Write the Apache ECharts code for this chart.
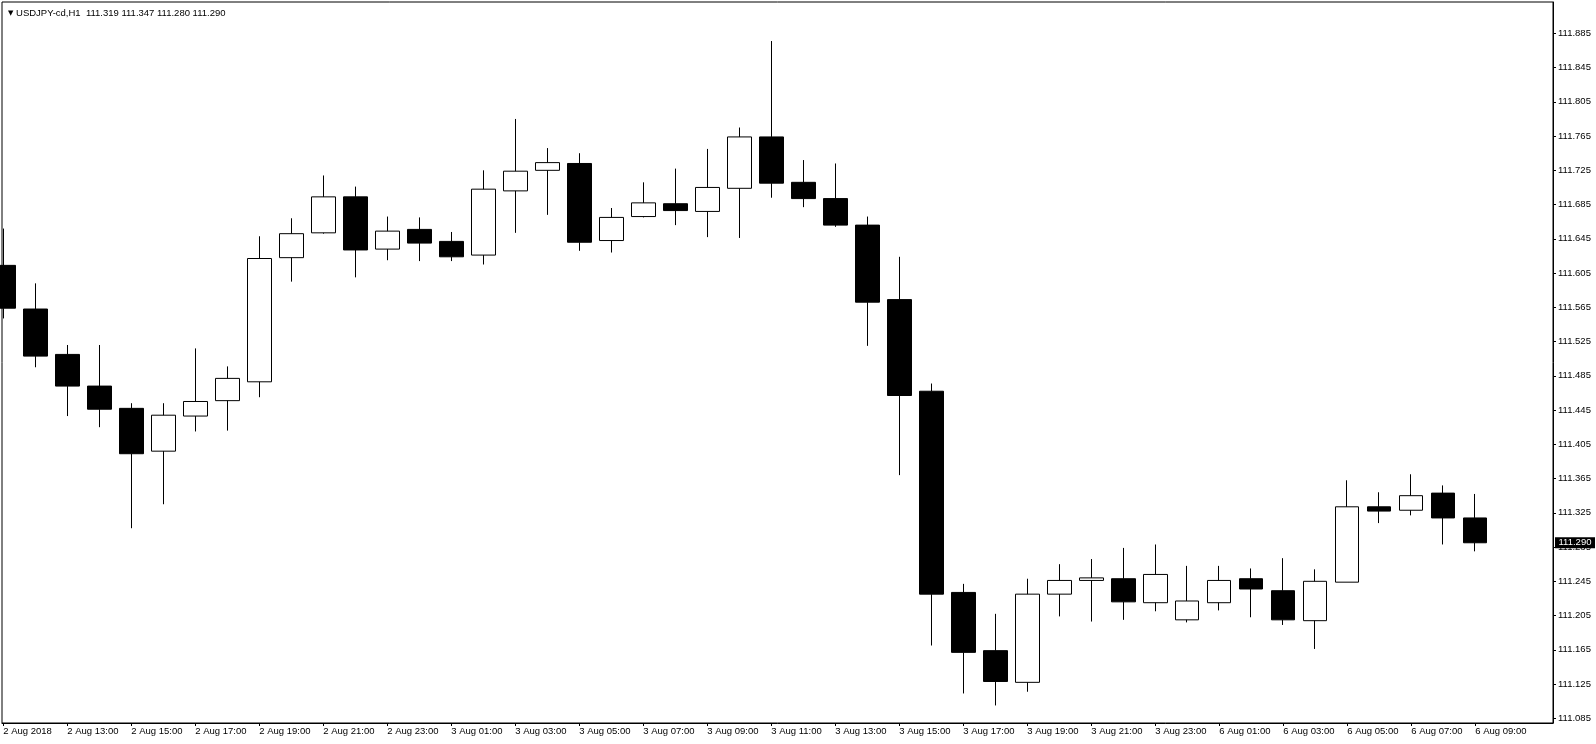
<!DOCTYPE html>
<html>
<head>
<meta charset="utf-8">
<script src="https://cdn.jsdelivr.net/npm/echarts@6/dist/echarts.min.js"></script>
<style>
  html, body { margin: 0; padding: 0; background: #fff; }
  #chart { width: 1596px; height: 744px; }
</style>
</head>
<body>
<div id="chart"></div>
<script>
// ---- Data (USDJPY-cd, H1) ----
const symbolName = "USDJPY-cd,H1";
const times = [
  "2 Aug 11:00","2 Aug 12:00","2 Aug 13:00","2 Aug 14:00","2 Aug 15:00","2 Aug 16:00","2 Aug 17:00","2 Aug 18:00",
  "2 Aug 19:00","2 Aug 20:00","2 Aug 21:00","2 Aug 22:00","2 Aug 23:00","3 Aug 00:00","3 Aug 01:00","3 Aug 02:00",
  "3 Aug 03:00","3 Aug 04:00","3 Aug 05:00","3 Aug 06:00","3 Aug 07:00","3 Aug 08:00","3 Aug 09:00","3 Aug 10:00",
  "3 Aug 11:00","3 Aug 12:00","3 Aug 13:00","3 Aug 14:00","3 Aug 15:00","3 Aug 16:00","3 Aug 17:00","3 Aug 18:00",
  "3 Aug 19:00","3 Aug 20:00","3 Aug 21:00","3 Aug 22:00","3 Aug 23:00","6 Aug 00:00","6 Aug 01:00","6 Aug 02:00",
  "6 Aug 03:00","6 Aug 04:00","6 Aug 05:00","6 Aug 06:00","6 Aug 07:00","6 Aug 08:00","6 Aug 09:00"
];
const openP = [
  111.614,111.563,111.510,111.473,111.447,111.397,111.438,111.456,111.478,111.623,
  111.652,111.694,111.633,111.656,111.642,111.626,111.701,111.725,111.733,111.643,
  111.671,111.686,111.677,111.704,111.764,111.711,111.692,111.661,111.574,111.467,
  111.232,111.164,111.127,111.230,111.246,111.248,111.220,111.200,111.220,111.248,
  111.234,111.199,111.244,111.332,111.328,111.348,111.319
];
const highP = [
  111.657,111.593,111.521,111.521,111.453,111.453,111.517,111.496,111.648,111.669,
  111.719,111.706,111.671,111.670,111.653,111.725,111.785,111.751,111.745,111.681,
  111.711,111.727,111.750,111.775,111.876,111.737,111.733,111.671,111.624,111.476,
  111.242,111.207,111.248,111.265,111.271,111.284,111.288,111.263,111.263,111.260,
  111.272,111.259,111.363,111.349,111.370,111.357,111.347
];
const lowP = [
  111.552,111.495,111.438,111.425,111.307,111.335,111.420,111.421,111.460,111.595,
  111.651,111.600,111.620,111.619,111.619,111.615,111.652,111.673,111.631,111.629,
  111.670,111.661,111.647,111.646,111.693,111.682,111.659,111.520,111.369,111.170,
  111.114,111.100,111.116,111.204,111.198,111.200,111.210,111.197,111.211,111.203,
  111.194,111.166,111.244,111.313,111.322,111.288,111.280
];
const closeP = [
  111.564,111.508,111.473,111.446,111.394,111.439,111.455,111.482,111.622,111.651,
  111.694,111.632,111.654,111.640,111.624,111.703,111.724,111.734,111.641,111.670,
  111.687,111.678,111.705,111.764,111.710,111.692,111.661,111.571,111.462,111.230,
  111.162,111.128,111.230,111.246,111.249,111.221,111.253,111.222,111.246,111.236,
  111.200,111.245,111.332,111.327,111.345,111.319,111.290
];
const xTickIndex = [0,2,4,6,8,10,12,14,16,18,20,22,24,26,28,30,32,34,36,38,40,42,44,46];
const xTickLabels = [
  "2 Aug 2018","2 Aug 13:00","2 Aug 15:00","2 Aug 17:00","2 Aug 19:00","2 Aug 21:00","2 Aug 23:00",
  "3 Aug 01:00","3 Aug 03:00","3 Aug 05:00","3 Aug 07:00","3 Aug 09:00","3 Aug 11:00","3 Aug 13:00",
  "3 Aug 15:00","3 Aug 17:00","3 Aug 19:00","3 Aug 21:00","3 Aug 23:00","6 Aug 01:00","6 Aug 03:00",
  "6 Aug 05:00","6 Aug 07:00","6 Aug 09:00"
];
const yTicks = [111.085,111.125,111.165,111.205,111.245,111.285,111.325,111.365,111.405,111.445,
  111.485,111.525,111.565,111.605,111.645,111.685,111.725,111.765,111.805,111.845,111.885];

// ---- Build ----
const FONT = "'Liberation Sans', 'DejaVu Sans', sans-serif";
const FS = 9.5;
const candles = openP.map((o, i) => [i, o, closeP[i], lowP[i], highP[i]]);
const n = openP.length;
const last = n - 1;
const X_MIN = -0.04, X_MAX = 48.43;
const Y_MIN = 111.0795, Y_MAX = 111.9216;
const labelMap = {};
xTickIndex.forEach((v, i) => { labelMap[v] = xTickLabels[i]; });
const titleText = symbolName + '  ' + [openP[last], highP[last], lowP[last], closeP[last]].map(v => v.toFixed(3)).join(' ');

const chart = echarts.init(document.getElementById('chart'), null, { renderer: 'canvas' });
chart.setOption({
  animation: false,
  backgroundColor: '#ffffff',
  title: {
    text: '{tri|▼} ' + titleText,
    left: 3, top: 3,
    textStyle: {
      fontSize: FS, fontWeight: 'normal', color: '#000', fontFamily: FONT,
      rich: { tri: { fontSize: 7, color: '#000', fontFamily: "'DejaVu Sans', sans-serif" } }
    }
  },
  grid: {
    left: 2, right: 43, top: 2, bottom: 21,
    show: true, borderColor: '#000', borderWidth: 1, backgroundColor: '#fff'
  },
  xAxis: {
    type: 'value',
    min: X_MIN, max: X_MAX,
    axisLine: { show: true, onZero: false, lineStyle: { color: '#000', width: 1 } },
    axisTick: { show: true, length: 3, customValues: xTickIndex, lineStyle: { color: '#000' } },
    axisLabel: {
      show: true, customValues: xTickIndex,
      formatter: v => labelMap[Math.round(v)] || '',
      align: 'left', margin: 3, fontSize: FS, color: '#000', fontFamily: FONT,
      showMinLabel: true, showMaxLabel: true, hideOverlap: false
    },
    splitLine: { show: false }
  },
  yAxis: {
    type: 'value',
    position: 'right',
    min: Y_MIN, max: Y_MAX,
    scale: true,
    axisLine: { show: true, onZero: false, lineStyle: { color: '#000', width: 1 } },
    axisTick: { show: true, inside: false, length: 3, customValues: yTicks, lineStyle: { color: '#000' } },
    axisLabel: {
      show: true, customValues: yTicks,
      formatter: v => Number(v).toFixed(3),
      margin: 5, fontSize: FS, color: '#000', fontFamily: FONT,
      showMinLabel: true, showMaxLabel: true, hideOverlap: false
    },
    splitLine: { show: false }
  },
  series: [{
    type: 'candlestick',
    data: candles,
    encode: { x: 0, y: [1, 2, 3, 4] },
    barWidth: 24,
    clip: true,
    itemStyle: {
      color: '#ffffff', color0: '#000000',
      borderColor: '#000000', borderColor0: '#000000', borderColorDoji: '#000000',
      borderWidth: 1
    },
    emphasis: { disabled: true },
    markPoint: {
      silent: true,
      symbol: 'rect',
      symbolSize: [40, 11],
      symbolOffset: [22, 0],
      itemStyle: { color: '#000' },
      label: { show: true, position: 'inside', color: '#fff', fontSize: FS, fontFamily: FONT,
        formatter: () => closeP[last].toFixed(3) },
      data: [{ coord: [X_MAX, closeP[last]] }]
    }
  }]
});
</script>
</body>
</html>
